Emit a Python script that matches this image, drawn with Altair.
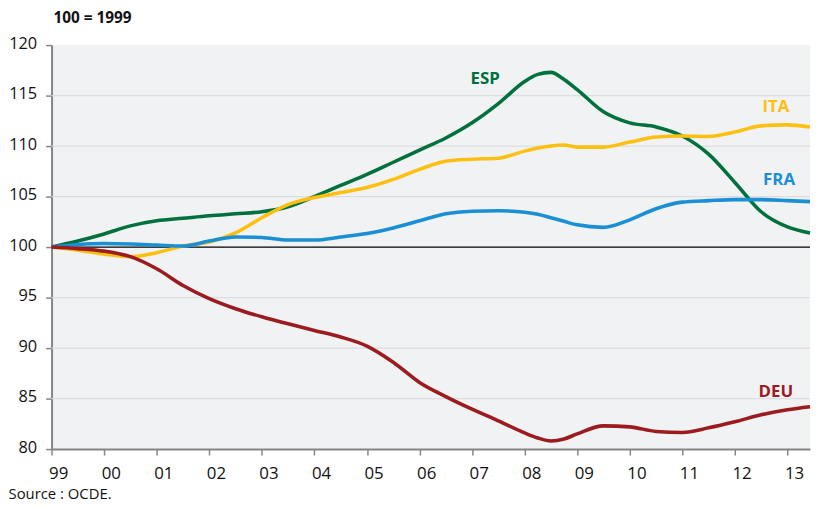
import altair as alt
import pandas as pd

FONT = "Open Sans"

YEARS = [1999.0, 1999.5, 2000.0, 2000.5, 2001.0, 2001.5, 2002.0, 2002.5,
         2003.0, 2003.5, 2004.0, 2004.5, 2005.0, 2005.5, 2006.0, 2006.5,
         2007.0, 2007.5, 2008.0, 2008.25, 2008.5, 2008.75, 2009.0, 2009.5,
         2010.0, 2010.5, 2011.0, 2011.5, 2012.0, 2012.5, 2013.0, 2013.43]

ESP = [100, 100.6, 101.3, 102.1, 102.6, 102.85, 103.1, 103.3,
       103.5, 104.0, 105.0, 106.1, 107.2, 108.4, 109.6, 110.8,
       112.3, 114.2, 116.4, 117.1, 117.3, 116.6, 115.6, 113.4,
       112.3, 111.9, 111.0, 109.2, 106.4, 103.5, 102.0, 101.4]

ITA = [100, 99.7, 99.3, 99.05, 99.45, 100.1, 100.5, 101.4,
       102.9, 104.2, 104.9, 105.4, 105.9, 106.7, 107.7, 108.5,
       108.7, 108.8, 109.5, 109.8, 110.0, 110.1, 109.9, 109.9,
       110.4, 110.9, 111.0, 110.95, 111.4, 112.0, 112.1, 111.9]

FRA = [100, 100.25, 100.35, 100.3, 100.2, 100.1, 100.6, 101.0,
       100.95, 100.7, 100.7, 101.0, 101.35, 101.9, 102.6, 103.3,
       103.55, 103.6, 103.45, 103.25, 102.9, 102.55, 102.2, 101.95,
       102.7, 103.8, 104.45, 104.6, 104.7, 104.7, 104.6, 104.5]

DEU = [100, 99.85, 99.6, 99.05, 97.85, 96.2, 94.9, 93.9,
       93.1, 92.4, 91.75, 91.1, 90.2, 88.6, 86.6, 85.2,
       83.95, 82.8, 81.6, 81.1, 80.8, 81.0, 81.5, 82.3,
       82.2, 81.75, 81.65, 82.1, 82.7, 83.4, 83.9, 84.2]

SERIES = ["ESP", "ITA", "FRA", "DEU"]
COLORS = ["#00703c", "#fdc010", "#1a8fd3", "#9b1b1f"]
LABEL_YEARS = [2007.25, 2012.78, 2012.84, 2012.78]
LABEL_VALUES = [116.6, 113.9, 106.6, 85.6]

X_TICKS = list(range(1999, 2014))
Y_TICKS = [80, 85, 90, 95, 100, 105, 110, 115, 120]
GRID_VALUES = [85, 90, 95, 105, 110, 115]
REF_VALUE = [100]

TITLE_TEXT = "100 = 1999"
SOURCE_TEXT = "Source : OCDE."

rows = []
for name, vals in zip(SERIES, [ESP, ITA, FRA, DEU]):
    for yr, v in zip(YEARS, vals):
        rows.append({"pays": name, "annee": yr, "indice": v})
df = pd.DataFrame(rows)
labels_df = pd.DataFrame({"pays": SERIES, "annee": LABEL_YEARS, "indice": LABEL_VALUES})

x_scale = alt.Scale(domain=[1999, 2013.43], nice=False, zero=False)
y_scale = alt.Scale(domain=[80, 120], nice=False, zero=False)
color_scale = alt.Scale(domain=SERIES, range=COLORS)

x_axis = alt.Axis(values=X_TICKS, labelExpr="substring(toString(datum.value), 2)",
                  title=None, grid=False, domainColor="#858585", domainWidth=2,
                  tickColor="#858585", tickWidth=1.5, tickSize=6,
                  labelFont=FONT, labelFontSize=17, labelColor="#111111",
                  labelAlign="left", labelOffset=-3, labelPadding=11,
                  labelFlush=False, labelOverlap=False)
y_axis = alt.Axis(values=Y_TICKS, title=None, grid=False, domainColor="#858585",
                  domainWidth=2, tickColor="#858585", tickWidth=1.5, tickSize=6,
                  labelFont=FONT, labelFontSize=16.5, labelColor="#111111",
                  labelPadding=9, labelBaseline="middle", labelOffset=-2,
                  labelFlush=False, labelOverlap=False)

grid = alt.Chart(pd.DataFrame({"v": GRID_VALUES})).mark_rule(
    color="#dcdde0", strokeWidth=1.2
).encode(y=alt.Y("v:Q", scale=y_scale, axis=y_axis))

ref = alt.Chart(pd.DataFrame({"v": REF_VALUE})).mark_rule(
    color="#000000", strokeWidth=1.3
).encode(y=alt.Y("v:Q", scale=y_scale, axis=y_axis))

lines = alt.Chart(df).mark_line(strokeWidth=3.6, interpolate="monotone").encode(
    x=alt.X("annee:Q", scale=x_scale, axis=x_axis),
    y=alt.Y("indice:Q", scale=y_scale, axis=y_axis),
    color=alt.Color("pays:N", scale=color_scale, legend=None),
    detail="pays:N",
)

labels = alt.Chart(labels_df).mark_text(
    font=FONT, fontSize=17, fontWeight="bold", align="center", baseline="middle"
).encode(
    x=alt.X("annee:Q", scale=x_scale, axis=x_axis),
    y=alt.Y("indice:Q", scale=y_scale, axis=y_axis),
    text="pays:N",
    color=alt.Color("pays:N", scale=color_scale, legend=None),
)

title = alt.Chart(pd.DataFrame({"t": [TITLE_TEXT]})).mark_text(
    font=FONT, fontSize=15.5, fontWeight="bold", align="left",
    baseline="alphabetic", color="#111111"
).encode(x=alt.value(2), y=alt.value(-22), text="t:N")

source = alt.Chart(pd.DataFrame({"t": [SOURCE_TEXT]})).mark_text(
    font=FONT, fontSize=15, align="left", baseline="alphabetic", color="#111111"
).encode(x=alt.value(-43.5), y=alt.value(458), text="t:N")

chart = alt.layer(grid, ref, lines, labels, title, source).properties(
    width=766, height=408,
    autosize=alt.AutoSizeParams(type="none"),
    padding={"left": 44, "top": 35, "right": 3, "bottom": 53},
).configure_view(fill="#f1f2f4", stroke=None)

chart.save("out.html", embed_options={"renderer": "svg", "actions": False})
